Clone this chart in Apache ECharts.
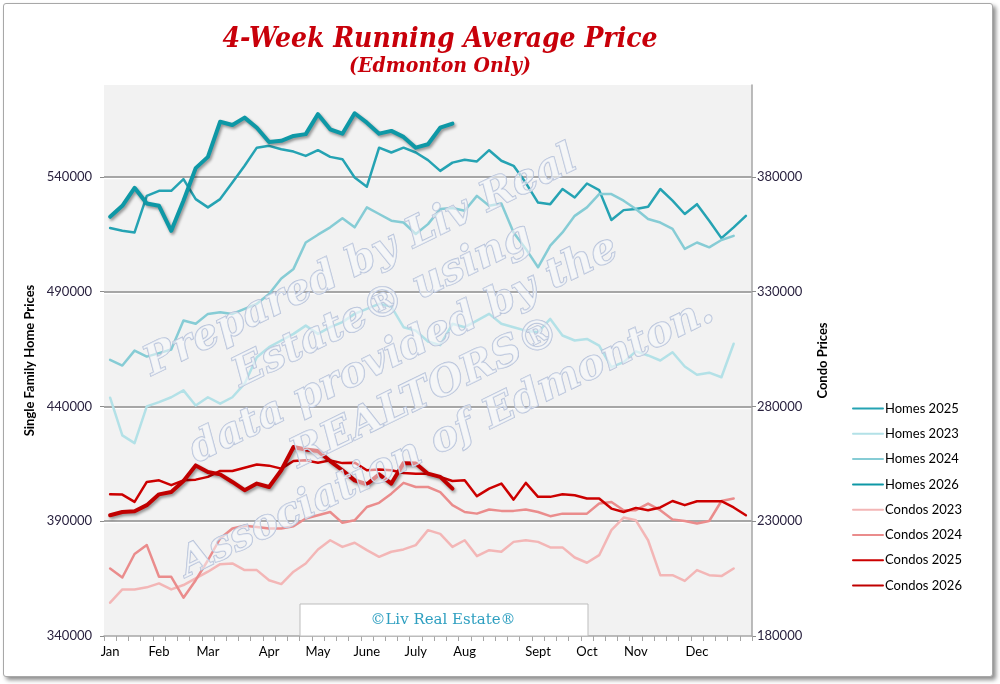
<!DOCTYPE html>
<html lang="en">
<head>
<meta charset="UTF-8">
<title>4-Week Running Average Price</title>
<script src="https://cdn.jsdelivr.net/npm/echarts@6/dist/echarts.min.js"></script>
<style>
  html, body { margin: 0; padding: 0; background: #fff; }
  #frame {
    position: absolute; left: 3px; top: 3px; width: 988px; height: 672px;
    border: 1px solid #a8a8a8; border-radius: 3px;
    box-shadow: 3px 3px 4px rgba(0,0,0,0.45); background: #fff;
  }
  #main { position: absolute; left: 0; top: 0; width: 1000px; height: 684px; }
</style>
</head>
<body>
<div id="frame"></div>
<div id="main"></div>
<script type="text/javascript">
// week of year (1..53)
var weeks = [1,2,3,4,5,6,7,8,9,10,11,12,13,14,15,16,17,18,19,20,21,22,23,24,25,26,27,
             28,29,30,31,32,33,34,35,36,37,38,39,40,41,42,43,44,45,46,47,48,49,50,51,52,53];
// month names shown under the first week of each month
var monthNames = ['Jan','Feb','Mar','Apr','May','June','July','Aug','Sept','Oct','Nov','Dec'];
var monthWeeks = [1, 5, 9, 14, 18, 22, 26, 30, 36, 40, 44, 49];

var leftTicks = { min: 340000, max: 580000, step: 50000 };
var rightTicks = { min: 180000, max: 420000, step: 50000 };

// single family homes (left axis)
var homes2025 = [517700,516500,515800,531700,533900,533900,539000,530300,526700,530300,537500,544800,552700,
                 553500,552000,551000,549100,551600,548700,547700,539700,535700,552700,550600,552700,550600,
                 547300,542600,546200,547400,546700,551600,547000,544800,537400,528800,528100,534700,531000,
                 537100,534200,521200,525500,526000,527000,534700,529600,523800,528100,520900,513300,518000,523000];
var homes2023 = [443800,427400,424000,440000,441900,444000,447000,440400,444000,441200,444000,449900,461400,
                 465800,468700,471600,475200,471600,474500,476700,480300,482500,484700,483500,474500,473000,
                 468300,466700,476000,474500,477400,480300,476000,474500,473000,472300,478100,470900,468700,
                 469400,466500,457100,459300,464000,462200,460000,463600,457400,453800,454700,452700,467300];
var homes2024 = [460300,457800,464300,461700,463200,464800,477400,476000,480300,481000,480300,482500,484700,
                 489000,495700,499900,511400,514800,518000,522000,518000,526700,523800,520900,520100,515100,
                 519400,526000,526400,525200,531700,527400,528400,515800,508600,500600,510000,515800,523000,
                 526700,532500,532500,529600,526000,521600,520100,517300,508600,511400,509300,512500,514300];
var homes2026 = [522600,527400,535200,528400,527400,516500,529600,543800,548700,564000,562600,565800,561400,
                 555200,555700,557800,558600,567300,560700,558800,567700,563600,558800,560000,557400,552700,
                 554200,561400,563200];

// condos (right axis)
var condos2023 = [194500,200300,200300,201200,202900,200300,202200,205100,208000,211300,211600,208700,208700,
                  204300,202600,208000,211600,217700,221700,218800,220600,217400,214500,216700,217700,219600,
                  226100,224500,218800,221700,214800,217400,216700,221000,221700,221000,218600,218600,214200,
                  211900,215200,226100,231600,230400,221700,206500,206500,204000,208700,206500,206100,209400];
var condos2024 = [209400,205500,215700,219600,205800,205800,196700,204300,213000,222500,226800,228000,227500,
                  226800,226800,227800,231200,232600,234000,229300,230400,236200,238000,242000,246700,244900,
                  244900,242700,237000,234000,233300,235100,234500,234500,235100,234000,232200,233300,233300,
                  233300,237700,238400,234800,234800,237700,234800,230700,230100,229000,230100,238800,239900];
var condos2025 = [241700,241600,238400,247100,247800,245700,247800,248100,249300,251900,251900,253300,254700,
                  254200,252900,256200,256500,255500,256500,255300,255500,252200,252500,252200,251000,250700,
                  250700,249300,247500,247800,240900,244200,246400,239400,246700,240600,240600,241700,241300,
                  239900,239900,235500,234000,235800,234800,236000,238800,237000,238700,238700,238700,236000,232600];
var condos2026 = [232600,234000,234300,237000,241700,242700,247500,254300,251400,250400,247100,243500,246400,
                  244900,252200,262300,261200,260600,256200,252200,247800,246100,250400,246400,255300,255100,
                  250700,249300,244200];

var labelFont = 'Lato';
var labelColor = '#2b2340';

var chart = echarts.init(document.getElementById('main'), null, { renderer: 'canvas' });

function line(name, data, color, width, axis, shadow) {
    var s = {
        name: name,
        type: 'line',
        yAxisIndex: axis,
        data: data,
        symbol: 'none',
        smooth: false,
        itemStyle: { color: color },
        lineStyle: { color: color, width: width, cap: 'round', join: 'round' }
    };
    if (shadow) {
        s.lineStyle.shadowColor = 'rgba(0,0,0,0.4)';
        s.lineStyle.shadowBlur = 3;
        s.lineStyle.shadowOffsetX = 1.5;
        s.lineStyle.shadowOffsetY = 2;
    }
    return s;
}

function plainNumber(v) { return String(v); }

var option = {
    backgroundColor: 'transparent',
    animation: false,
    title: [
        {
            text: '4-Week Running Average Price',
            left: 435, top: 21, textAlign: 'center',
            textStyle: { fontFamily: 'DejaVu Serif Condensed, DejaVu Serif', fontStyle: 'italic',
                         fontWeight: 'bold', fontSize: 28, color: '#c8000a' }
        },
        {
            text: '(Edmonton Only)',
            left: 435, top: 51, textAlign: 'center',
            textStyle: { fontFamily: 'DejaVu Serif Condensed, DejaVu Serif', fontStyle: 'italic',
                         fontWeight: 'bold', fontSize: 21, color: '#c8000a' }
        }
    ],
    grid: {
        left: 104, right: 248, top: 85, bottom: 48,
        show: true, backgroundColor: '#f2f2f2', borderWidth: 0
    },
    legend: {
        orient: 'vertical',
        left: 852, top: 402,
        padding: 0,
        itemWidth: 30, itemHeight: 14, itemGap: 12.3,
        itemStyle: { opacity: 0 },
        textStyle: { fontFamily: labelFont, fontSize: 13, color: '#000', padding: [0, 0, 0, -3] }
    },
    xAxis: {
        type: 'category',
        data: weeks,
        boundaryGap: true,
        axisLine: { show: true, lineStyle: { color: '#a6a6a6', width: 1.5 } },
        axisTick: { show: true, interval: 0, length: 5, lineStyle: { color: '#a6a6a6' } },
        axisLabel: {
            interval: 0, margin: 9,
            fontFamily: labelFont, fontSize: 13, color: '#000',
            formatter: function (value, index) {
                var k = monthWeeks.indexOf(Number(value));
                return k >= 0 ? monthNames[k] : '';
            }
        },
        splitLine: { show: false }
    },
    yAxis: [
        {
            type: 'value',
            position: 'left',
            min: leftTicks.min, max: leftTicks.max, interval: leftTicks.step,
            name: 'Single Family Home Prices',
            nameLocation: 'middle', nameGap: 45, nameRotate: 90,
            nameTextStyle: { fontFamily: labelFont, fontWeight: 'bold', fontSize: 13, color: '#000' },
            axisLine: { show: false },
            axisTick: { show: true, length: 4, lineStyle: { color: '#8c8c8c' } },
            axisLabel: { margin: 12, fontFamily: labelFont, fontSize: 13, color: labelColor,
                         showMaxLabel: false, formatter: plainNumber },
            splitLine: {
                show: true, showMinLine: false, showMaxLine: false,
                lineStyle: { color: '#8c8c8c', width: 1.5, shadowColor: '#ffffff', shadowOffsetY: 1.5 }
            }
        },
        {
            type: 'value',
            position: 'right',
            min: rightTicks.min, max: rightTicks.max, interval: rightTicks.step,
            name: 'Condo Prices',
            nameLocation: 'middle', nameGap: 64, nameRotate: 90,
            nameTextStyle: { fontFamily: labelFont, fontWeight: 'bold', fontSize: 13, color: '#000' },
            axisLine: { show: true, lineStyle: { color: '#a6a6a6', width: 1.5 } },
            axisTick: { show: true, length: 4, lineStyle: { color: '#8c8c8c' } },
            axisLabel: { margin: 5, fontFamily: labelFont, fontSize: 13, color: labelColor,
                         showMaxLabel: false, formatter: plainNumber },
            splitLine: { show: false }
        }
    ],
    graphic: [
        {
            type: 'rect', z: 1, silent: true,
            shape: { x: 300, y: 604, width: 288, height: 32 },
            style: { fill: '#ffffff', stroke: '#bdbdbd', lineWidth: 1 }
        },
        {
            type: 'text', z: 2, silent: true,
            x: 443, y: 620,
            style: { text: '\u00A9Liv Real Estate\u00AE', align: 'center', verticalAlign: 'middle',
                     font: '15px "DejaVu Serif"', fill: '#2e9fc0' }
        },
        {
            type: 'text', z: 100, silent: true,
            x: 404, y: 350, rotation: 26 * Math.PI / 180,
            style: {
                text: 'Prepared by Liv Real\nEstate\u00AE using\ndata provided by the\nREALTORS\u00AE\nAssociation of Edmonton.',
                align: 'center', verticalAlign: 'middle', lineHeight: 49,
                font: 'italic bold 41px "DejaVu Serif"',
                fill: 'rgba(248,249,252,0.55)', stroke: '#b3bfd8', lineWidth: 1.3
            }
        }
    ],
    series: [
        line('Homes 2025', homes2025, '#25a3b3', 2.5, 0, false),
        line('Homes 2023', homes2023, '#b3e1e7', 2.5, 0, false),
        line('Homes 2024', homes2024, '#86ccd5', 2.5, 0, false),
        line('Homes 2026', homes2026, '#0e98a6', 4, 0, true),
        line('Condos 2023', condos2023, '#f3b6b6', 2.5, 1, false),
        line('Condos 2024', condos2024, '#ea8c8c', 2.5, 1, false),
        line('Condos 2025', condos2025, '#cc0000', 2.5, 1, false),
        line('Condos 2026', condos2026, '#c00000', 4, 1, true)
    ]
};

chart.setOption(option);
</script>
</body>
</html>
